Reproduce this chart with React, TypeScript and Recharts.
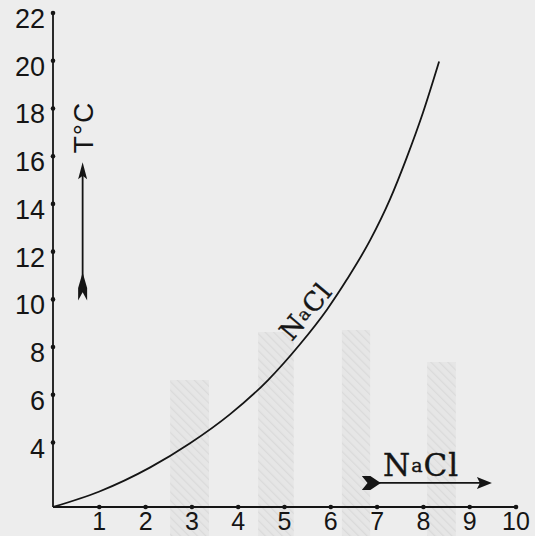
import React from "react";
import {
  LineChart,
  Line,
  XAxis,
  YAxis,
  ReferenceArea,
  ReferenceLine,
  ReferenceDot,
} from "recharts";

// NaCl curve (x on the horizontal scale, T in °C)
const curveX = [0, 0.99, 2.1, 2.96, 3.82, 4.64, 5.33, 5.92, 6.35, 6.85, 7.28, 7.64, 7.99, 8.34];
const curveT = [1.3, 1.94, 2.96, 3.97, 5.18, 6.61, 8.11, 9.58, 10.84, 12.48, 14.2, 15.94, 17.82, 19.97];

const xTicks = [1, 2, 3, 4, 5, 6, 7, 8, 9, 10];
const yTicks = [4, 6, 8, 10, 12, 14, 16, 18, 20, 22];

// faint hatched columns showing through the paper
const ghostFrom = [2.53, 4.43, 6.24, 8.08];
const ghostTo = [3.37, 5.2, 6.85, 8.7];
const ghostTop = [6.62, 8.63, 8.72, 7.38];

const data = curveX.map((x, i) => ({ x, t: curveT[i] }));

const INK = "#151515";
const HAND = "'Liberation Sans', 'DejaVu Sans', sans-serif";
const SERIF = "'DejaVu Serif', 'Liberation Serif', serif";

const XTick = ({ x, y, payload }: any) => (
  <g>
    <circle cx={x} cy={y} r={2.3} fill={INK} />
    <text x={x} y={y + 23} textAnchor="middle" fontSize={25} fontFamily={HAND} fill={INK}>
      {payload.value}
    </text>
  </g>
);

const YTick = ({ x, y, payload }: any) => (
  <g>
    <circle cx={x} cy={y} r={2.3} fill={INK} />
    <text x={x - 8} y={y + 15} textAnchor="end" fontSize={27} fontFamily={HAND} fill={INK}>
      {payload.value}
    </text>
  </g>
);

// arrow with filled head and a notched, filled tail
const arrowShape = (headLen: number, headW: number, tailLen: number, tailW: number) => (p: any) => {
  const { x1, y1, x2, y2 } = p;
  const len = Math.hypot(x2 - x1, y2 - y1) || 1;
  const dx = (x2 - x1) / len;
  const dy = (y2 - y1) / len;
  const nx = -dy;
  const ny = dx;
  const pt = (bx: number, by: number, a: number, b: number) => `${bx + dx * a + nx * b},${by + dy * a + ny * b}`;
  const head = [pt(x2, y2, 0, 0), pt(x2, y2, -headLen, headW), pt(x2, y2, -headLen * 0.8, 0), pt(x2, y2, -headLen, -headW)].join(" ");
  const tail = [
    pt(x1, y1, tailLen, 0),
    pt(x1, y1, tailLen * 0.45, tailW),
    pt(x1, y1, 0, tailW),
    pt(x1, y1, tailLen * 0.3, 0),
    pt(x1, y1, 0, -tailW),
    pt(x1, y1, tailLen * 0.45, -tailW),
  ].join(" ");
  return (
    <g>
      <line x1={x1 + dx * tailLen * 0.5} y1={y1 + dy * tailLen * 0.5} x2={x2 - dx * headLen * 0.5} y2={y2 - dy * headLen * 0.5} stroke={INK} strokeWidth={1.8} />
      <polygon points={head} fill={INK} />
      <polygon points={tail} fill={INK} />
    </g>
  );
};

const TempLabel = ({ cx, cy }: any) => (
  <text
    x={cx}
    y={cy}
    textAnchor="middle"
    dominantBaseline="central"
    fontSize={28}
    fontFamily={HAND}
    fill={INK}
    letterSpacing={1}
    transform={`rotate(-90, ${cx}, ${cy})`}
  >
    T°C
  </text>
);

const saltText = (size: number, small: number, rot: number) => ({ cx, cy }: any) => (
  <text
    x={cx}
    y={cy}
    textAnchor="middle"
    dominantBaseline="central"
    fontSize={size}
    fontFamily={SERIF}
    fill={INK}
    letterSpacing={1}
    stroke={INK}
    strokeWidth={0.4}
    transform={rot ? `rotate(${rot}, ${cx}, ${cy})` : undefined}
  >
    N<tspan fontSize={small}>a</tspan>Cl
  </text>
);

export default function App() {
  return (
    <div style={{ position: "absolute", left: 0, top: 0, width: 535, height: 536, background: "#ededed" }}>
      <LineChart width={535} height={536} data={data} margin={{ top: 13, right: 19, bottom: 0, left: 0 }}>
        <defs>
          <pattern id="hatch" width={6} height={6} patternUnits="userSpaceOnUse" patternTransform="rotate(-45)">
            <rect width={6} height={6} fill="#e6e6e6" />
            <line x1={0} y1={0} x2={0} y2={6} stroke="#dadada" strokeWidth={2.5} />
          </pattern>
        </defs>
        {ghostFrom.map((x1, i) => (
          <ReferenceArea key={i} x1={x1} x2={ghostTo[i]} y1={0} y2={ghostTop[i]} fill="url(#hatch)" fillOpacity={1} stroke="none" ifOverflow="visible" />
        ))}
        <XAxis
          type="number"
          dataKey="x"
          domain={[0, 10]}
          ticks={xTicks}
          interval={0}
          height={29}
          tickSize={0}
          tickMargin={0}
          tickLine={false}
          axisLine={{ stroke: INK, strokeWidth: 1.8 }}
          tick={<XTick />}
          allowDataOverflow
        />
        <YAxis
          type="number"
          domain={[1.3, 22]}
          ticks={yTicks}
          interval={0}
          width={53}
          tickSize={0}
          tickMargin={0}
          tickLine={false}
          axisLine={{ stroke: INK, strokeWidth: 1.8 }}
          tick={<YTick />}
          allowDataOverflow
        />
        <Line type="monotone" dataKey="t" stroke={INK} strokeWidth={1.8} dot={false} isAnimationActive={false} />
        <ReferenceLine segment={[{ x: 0.64, y: 9.95 }, { x: 0.64, y: 15.75 }]} shape={arrowShape(17, 4.5, 28, 4.5)} ifOverflow="visible" />
        <ReferenceLine segment={[{ x: 6.67, y: 2.31 }, { x: 9.48, y: 2.31 }]} shape={arrowShape(15, 6, 19, 7)} ifOverflow="visible" />
        <ReferenceDot x={0.65} y={17.2} r={0} shape={TempLabel} ifOverflow="visible" />
        <ReferenceDot x={5.46} y={9.5} r={0} shape={saltText(26, 17, -50)} ifOverflow="visible" />
        <ReferenceDot x={7.95} y={3.06} r={0} shape={saltText(31, 19, 0)} ifOverflow="visible" />
      </LineChart>
    </div>
  );
}
